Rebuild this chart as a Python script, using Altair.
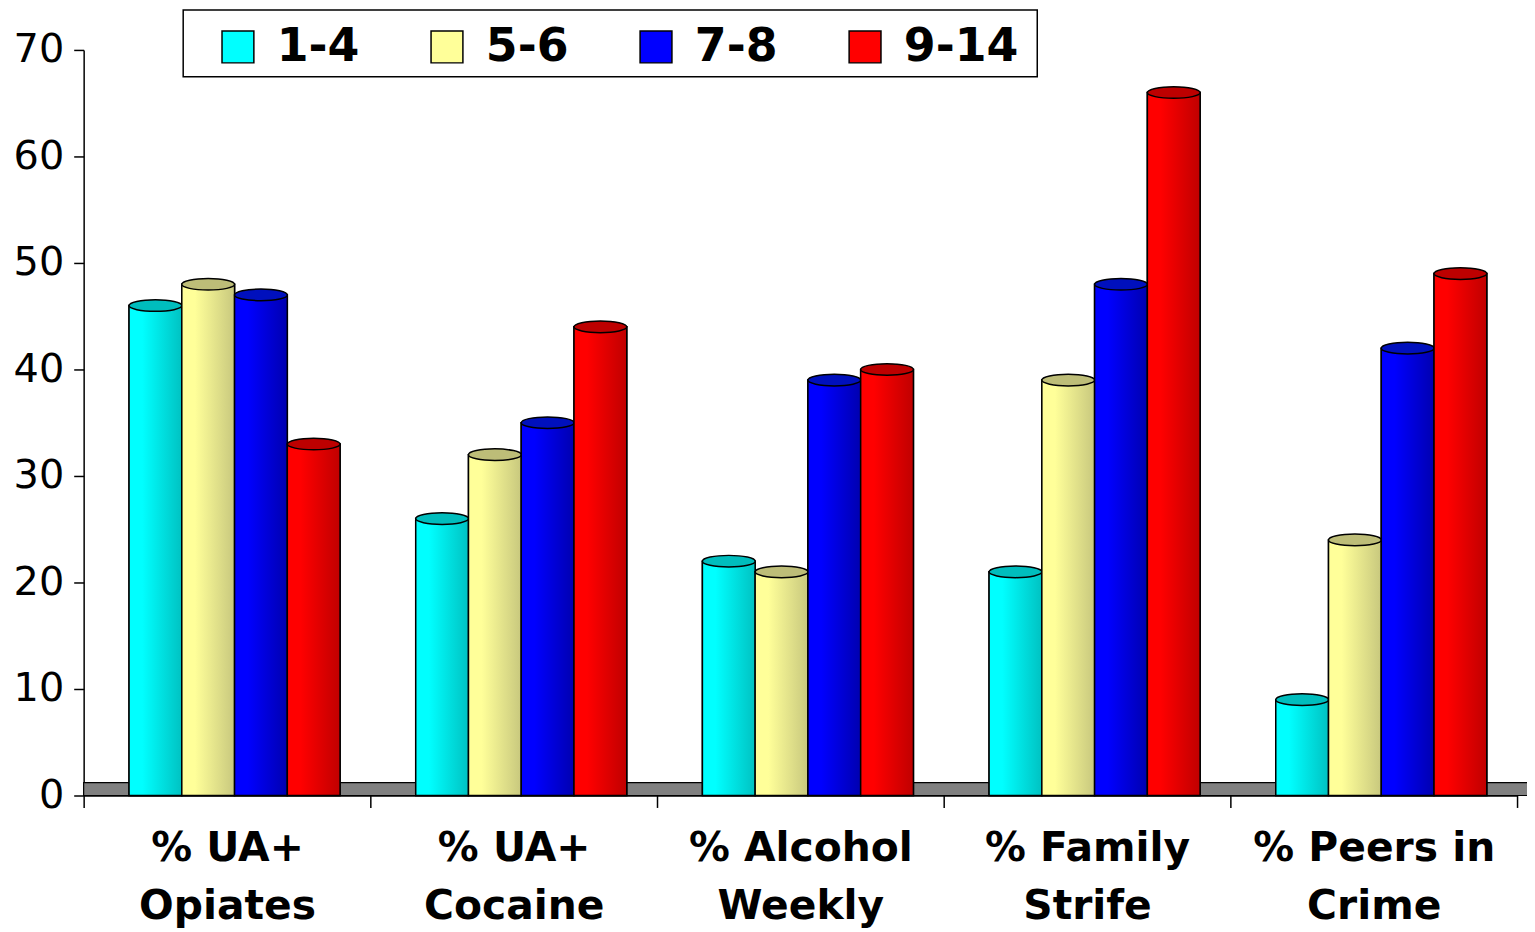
import altair as alt
import pandas as pd

categories = ["% UA+ Opiates", "% UA+ Cocaine", "% Alcohol Weekly", "% Family Strife", "% Peers in Crime"]
series = ["1-4", "5-6", "7-8", "9-14"]
values_1_4 = [46, 26, 22, 21, 9]
values_5_6 = [48, 32, 21, 39, 24]
values_7_8 = [47, 35, 39, 48, 42]
values_9_14 = [33, 44, 40, 66, 49]
y_ticks = [0, 10, 20, 30, 40, 50, 60, 70]

bright = ["#00FFFF", "#FFFF99", "#0000FF", "#FF0000"]
dark = ["#00C2C2", "#C8C87E", "#0000B0", "#C00000"]
tops = ["#00BDBD", "#BDBD78", "#0010BD", "#BD0000"]

rows = []
for s, vals in zip(series, [values_1_4, values_5_6, values_7_8, values_9_14]):
    for c, v in zip(categories, vals):
        rows.append({"category": c, "group": s, "value": v})
df = pd.DataFrame(rows)

W, H = 1440, 749
FONT = "DejaVu Sans"

x_enc = alt.X(
    "category:N", sort=categories,
    scale=alt.Scale(paddingInner=0, paddingOuter=0),
    axis=alt.Axis(
        title=None, labelAngle=0, tickBand="extent", grid=False, labelLimit=0,
        labelExpr="[substring(datum.label, 0, lastindexof(datum.label, ' ')), substring(datum.label, lastindexof(datum.label, ' ') + 1)]",
        labelFont=FONT, labelFontWeight="bold", labelFontSize=41, labelColor="black",
        labelLineHeight=59, labelPadding=21, tickSize=12, tickColor="black",
        domainColor="black", domainWidth=1.5, tickWidth=1.5,
    ),
)
xo_enc = alt.XOffset("group:N", sort=series,
                     scale=alt.Scale(paddingInner=0, paddingOuter=0.717, align=0.6))
y_enc = alt.Y(
    "value:Q", scale=alt.Scale(domain=[0, 70], nice=False),
    axis=alt.Axis(
        title=None, values=y_ticks, grid=False, labelFont=FONT, labelFontSize=40,
        labelColor="black", tickSize=10, labelPadding=10, tickColor="black",
        domainColor="black", domainWidth=1.5, tickWidth=1.5,
    ),
)

one = pd.DataFrame({"k": [0]})

floor = alt.Chart(one).mark_rect(fill="#808080", stroke="black", strokeWidth=1.2).encode(
    x=alt.value(0), x2=alt.value(W + 11), y=alt.value(H - 13), y2=alt.value(H)
)

legend_frame = alt.Chart(one).mark_rect(fill="white", stroke="black", strokeWidth=1.5).encode(
    x=alt.value(100), x2=alt.value(958), y=alt.value(-40), y2=alt.value(27)
)

base_bars = alt.Chart(df).mark_bar(stroke="black", strokeWidth=1.5).encode(
    x=x_enc, xOffset=xo_enc, y=y_enc,
    color=alt.Color(
        "group:N", sort=series,
        scale=alt.Scale(domain=series, range=bright),
        legend=alt.Legend(
            title=None, orient="none", legendX=132, legendY=-26, direction="horizontal",
            columns=4, columnPadding=64, labelOffset=16, symbolType="square",
            symbolSize=1024, symbolStrokeColor="black", symbolStrokeWidth=1.5,
            labelFont=FONT, labelFontWeight="bold", labelFontSize=46, labelColor="black",
            padding=0, labelLimit=0, symbolOpacity=1,
        ),
    ),
)

layers = [floor, legend_frame, base_bars]
ellipse = "M -1 0 A 1 0.22 0 1 1 1 0 A 1 0.22 0 1 1 -1 0 Z"
for s, b, d, t in zip(series, bright, dark, tops):
    grad = alt.Gradient(
        gradient="linear", x1=0, x2=1, y1=0, y2=0,
        stops=[alt.GradientStop(color=b, offset=0), alt.GradientStop(color=b, offset=0.25),
               alt.GradientStop(color=d, offset=1)],
    )
    sub = alt.Chart(df).transform_filter(alt.datum.group == s)
    layers.append(sub.mark_bar(fill=grad, stroke="black", strokeWidth=1.5).encode(
        x=x_enc, xOffset=xo_enc, y=y_enc))
    layers.append(sub.mark_point(shape=ellipse, size=2809, filled=True, fill=t, opacity=1,
                                 stroke="black", strokeWidth=1.5).encode(
        x=x_enc, xOffset=xo_enc, y=y_enc))

chart = alt.layer(*layers).properties(
    width=W, height=H,
    autosize=alt.AutoSizeParams(type="none"),
    padding={"left": 76, "top": 40, "right": 10, "bottom": 135},
).configure_view(stroke=None)

chart.save("out.html", embed_options={"renderer": "svg", "actions": False})
